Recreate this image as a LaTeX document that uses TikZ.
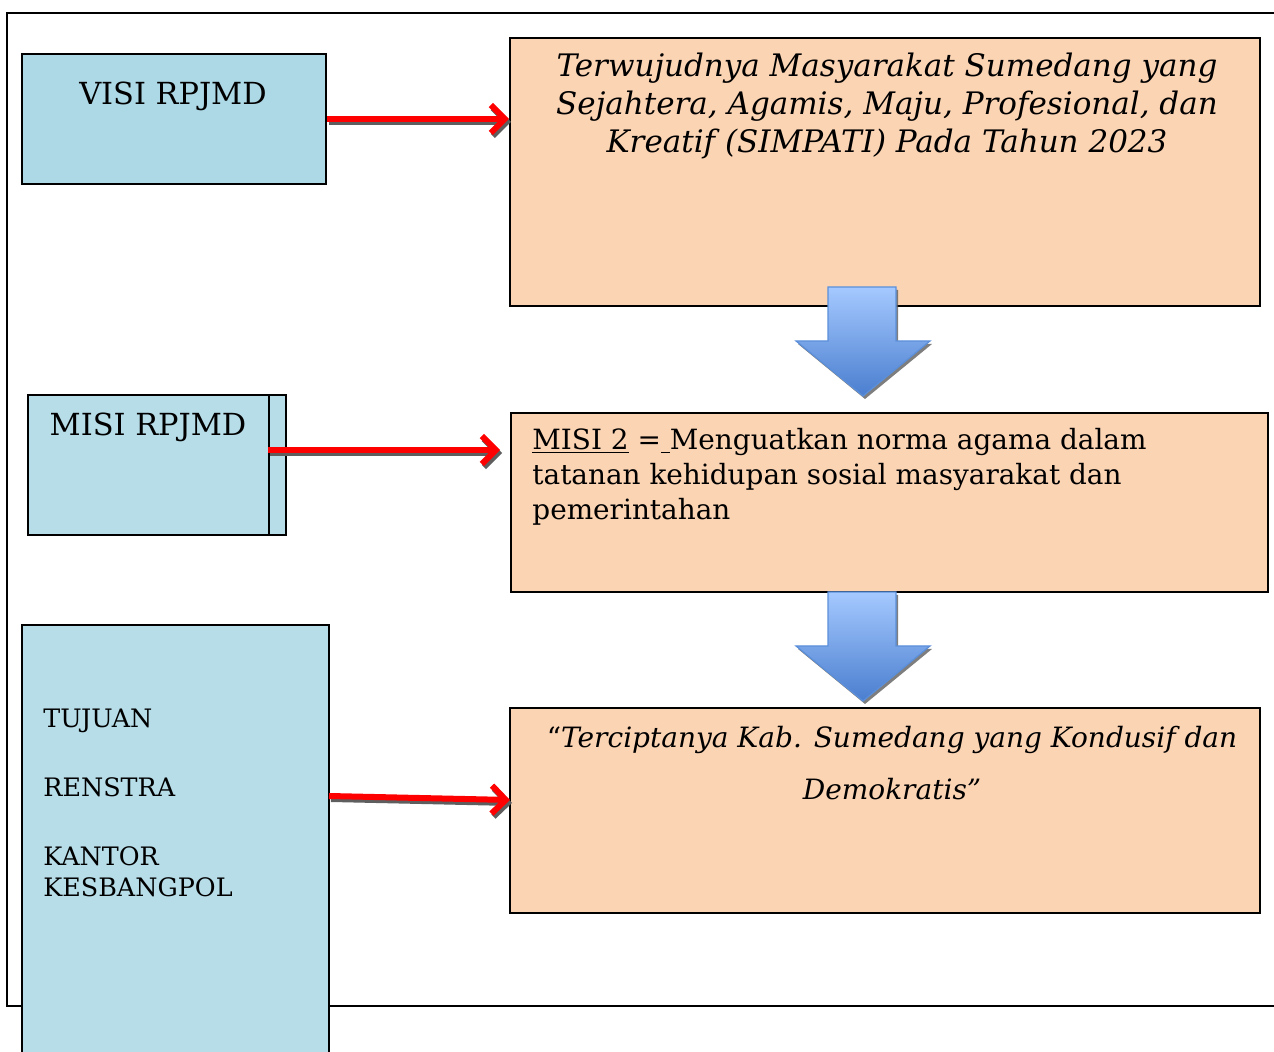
\documentclass[tikz,border=0pt]{standalone}
\usepackage{fontspec}
\setmainfont{DejaVu Serif}
\usetikzlibrary{arrows.meta, fit, positioning}
\definecolor{visiblue}{HTML}{ADD8E5}
\definecolor{boxblue}{HTML}{B7DDE8}
\definecolor{peach}{HTML}{FBD4B4}
\definecolor{shadowgray}{HTML}{5E5E5E}
\definecolor{blocktop}{HTML}{A5C9FF}
\definecolor{blockbottom}{HTML}{4A7ECF}
\definecolor{blockedge}{HTML}{5B8FDA}

\tikzset{
  bluebox/.style={draw, line width=1pt, fill=boxblue, inner sep=0pt},
  peachbox/.style={draw, line width=1pt, fill=peach, inner sep=0pt},
  link/.style={line width=3pt, -{Straight Barb[length=7pt,width=14pt]}},
  linkshadow/.style={link, draw=shadowgray, transform canvas={xshift=1pt,yshift=-1.5pt}},
}

\begin{document}
\begin{tikzpicture}[x=0.5pt, y=-0.5pt]
    \useasboundingbox (0,0) rectangle (1274,1052);

    % Frame
    \draw[line width=1pt] (1290,13) -- (7,13) -- (7,1006) -- (1290,1006);

    % Boxes
    \node[bluebox, fill=visiblue, fit={(22,54) (326,184)}] (visi) {};
    \node[bluebox, fit={(28,395) (286,535)}] (misi) {};
    \node[bluebox, fit={(22,625) (329,1070)}] (tujuan) {};
    \node[peachbox, fit={(510,38) (1260,306)}] (visibig) {};
    \node[peachbox, fit={(511,413) (1268,592)}] (misibig) {};
    \node[peachbox, fit={(510,708) (1260,913)}] (tujuanbig) {};

    \draw[line width=1pt] ([xshift=-9pt]misi.north east) -- ([xshift=-9pt]misi.south east);

    % Texts
    \node[font=\fontsize{15.2}{17}\selectfont] (visilabel) at (173,96) {VISI RPJMD};
    \node[font=\fontsize{15.2}{17}\selectfont] (misilabel) at (148,427) {MISI RPJMD};
    \node[anchor=north west, inner sep=0pt, align=left,
          font=\fontsize{12.7}{15.5}\selectfont] (tujuanlabel) at (43,709)
          {TUJUAN\\[19pt]RENSTRA\\[19pt]KANTOR\\KESBANGPOL};

    \node[align=center, font=\fontsize{15.5}{19}\itshape] (visitext) at (887,106)
          {Terwujudnya Masyarakat Sumedang yang\\
           Sejahtera, Agamis, Maju, Profesional, dan\\
           Kreatif (SIMPATI) Pada Tahun 2023};
    \node[anchor=north west, inner sep=0pt, align=left,
          font=\fontsize{13.95}{17.5}\selectfont] (misitext) at (532,428)
          {\underline{MISI 2} =\underline{\ }Menguatkan norma agama dalam\\
           tatanan kehidupan sosial masyarakat dan\\
           pemerintahan};
    \node[align=center, font=\fontsize{14}{26}\selectfont] (tujuantext) at (892,763)
          {“\textit{Terciptanya Kab. Sumedang yang Kondusif dan}\\
           \textit{Demokratis”}};

    % Red arrows
    \coordinate (visiout) at (visi.east);
    \coordinate (visiin) at (visiout -| visibig.west);
    \coordinate (misiout) at (268,450);
    \coordinate (misiin) at (500,450);
    \coordinate (tujuanout) at (329,796);
    \coordinate (tujuanin) at (510,800);

    \draw[linkshadow] (visiout) -- (visiin);
    \draw[link, red] (visiout) -- (visiin);
    \draw[linkshadow] (misiout) -- (misiin);
    \draw[link, red] (misiout) -- (misiin);
    \draw[linkshadow] (tujuanout) -- (tujuanin);
    \draw[link, red] (tujuanout) -- (tujuanin);

    % Block arrows
    \foreach \t in {287, 592} {
        \fill[shadowgray, opacity=0.8]
            (829,\t+3) -- (898,\t+3) -- (898,\t+57) -- (932,\t+57) -- (865,\t+112)
            -- (798,\t+57) -- (829,\t+57) -- cycle;
        \draw[blockedge, line width=0.6pt, top color=blocktop, bottom color=blockbottom]
            (828,\t) -- (896,\t) -- (896,\t+54) -- (930,\t+54) -- (863,\t+109)
            -- (796,\t+54) -- (828,\t+54) -- cycle;
    }
\end{tikzpicture}
\end{document}
